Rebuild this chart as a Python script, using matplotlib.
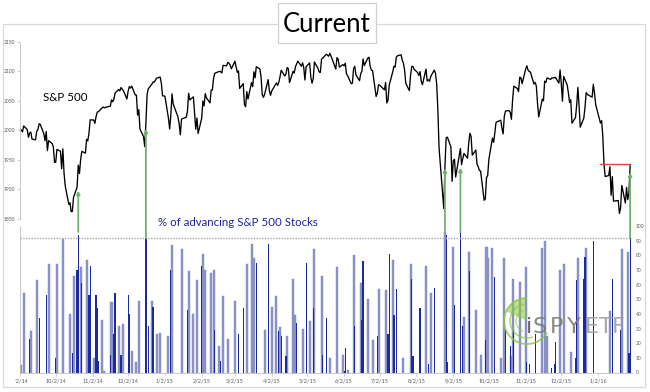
import matplotlib
matplotlib.use('Agg')
import matplotlib.pyplot as plt
import matplotlib.dates as mdates
from matplotlib.patches import Rectangle, Arc, Wedge, ConnectionPatch
from matplotlib.transforms import Bbox, TransformedBbox
from datetime import datetime

plt.rcParams['font.family'] = ['Lato', 'DejaVu Sans']

# ---------------- data ----------------
sp_months = ["2014-09", "2014-10", "2014-11", "2014-12", "2015-01", "2015-02", "2015-03",
             "2015-04", "2015-05", "2015-06", "2015-07", "2015-08", "2015-09", "2015-10",
             "2015-11", "2015-12", "2016-01"]
sp_days = [
    [2, 3, 4, 5, 8, 9, 10, 11, 12, 15, 16, 17, 18, 19, 22, 23, 24, 25, 26, 29, 30],
    [1, 2, 3, 6, 7, 8, 9, 10, 13, 14, 15, 16, 17, 20, 21, 22, 23, 24, 27, 28, 29, 30, 31],
    [3, 4, 5, 6, 7, 10, 11, 12, 13, 14, 17, 18, 19, 20, 21, 24, 25, 26, 28],
    [1, 2, 3, 4, 5, 8, 9, 10, 11, 12, 15, 16, 17, 18, 19, 22, 23, 24, 26, 29, 30, 31],
    [2, 5, 6, 7, 8, 9, 12, 13, 14, 15, 16, 20, 21, 22, 23, 26, 27, 28, 29, 30],
    [2, 3, 4, 5, 6, 9, 10, 11, 12, 13, 17, 18, 19, 20, 23, 24, 25, 26, 27],
    [2, 3, 4, 5, 6, 9, 10, 11, 12, 13, 16, 17, 18, 19, 20, 23, 24, 25, 26, 27, 30, 31],
    [1, 2, 6, 7, 8, 9, 10, 13, 14, 15, 16, 17, 20, 21, 22, 23, 24, 27, 28, 29, 30],
    [1, 4, 5, 6, 7, 8, 11, 12, 13, 14, 15, 18, 19, 20, 21, 22, 26, 27, 28, 29],
    [1, 2, 3, 4, 5, 8, 9, 10, 11, 12, 15, 16, 17, 18, 19, 22, 23, 24, 25, 26, 29, 30],
    [1, 2, 6, 7, 8, 9, 10, 13, 14, 15, 16, 17, 20, 21, 22, 23, 24, 27, 28, 29, 30, 31],
    [3, 4, 5, 6, 7, 10, 11, 12, 13, 14, 17, 18, 19, 20, 21, 24, 25, 26, 27, 28, 31],
    [1, 2, 3, 4, 8, 9, 10, 11, 14, 15, 16, 17, 18, 21, 22, 23, 24, 25, 28, 29, 30],
    [1, 2, 5, 6, 7, 8, 9, 12, 13, 14, 15, 16, 19, 20, 21, 22, 23, 26, 27, 28, 29, 30],
    [2, 3, 4, 5, 6, 9, 10, 11, 12, 13, 16, 17, 18, 19, 20, 23, 24, 25, 27, 30],
    [1, 2, 3, 4, 7, 8, 9, 10, 11, 14, 15, 16, 17, 18, 21, 22, 23, 24, 28, 29, 30, 31],
    [4, 5, 6, 7, 8, 11, 12, 13, 14, 15, 19, 20, 21, 22, 25, 26, 27, 28, 29],
]
sp_close = [
    [2002.28, 2000.72, 1997.65, 2007.71, 2001.54, 1988.44, 1995.69, 1997.45, 1985.54, 1984.13, 1998.98,
     2001.57, 2011.36, 2010.40, 1994.29, 1982.77, 1998.30, 1965.99, 1982.85, 1977.80, 1972.29],
    [1946.16, 1946.17, 1967.90, 1964.82, 1935.10, 1968.89, 1928.21, 1906.13, 1874.74, 1877.70, 1862.49,
     1862.76, 1886.76, 1904.01, 1941.28, 1927.11, 1950.82, 1964.58, 1961.63, 1985.05, 1982.30, 1994.65, 2018.05],
    [2017.81, 2012.10, 2023.57, 2031.21, 2031.92, 2038.26, 2039.68, 2038.25, 2039.33, 2039.82, 2041.32,
     2051.80, 2048.72, 2052.75, 2063.50, 2069.41, 2067.03, 2072.83, 2067.56],
    [2053.44, 2066.55, 2074.33, 2071.92, 2075.37, 2060.31, 2059.82, 2026.14, 2035.33, 2002.33, 1989.63,
     1972.74, 2012.89, 2061.23, 2070.65, 2078.54, 2082.17, 2081.88, 2088.77, 2090.57, 2080.35, 2058.90],
    [2058.20, 2020.58, 2002.61, 2025.90, 2062.14, 2044.81, 2028.26, 2023.03, 2011.27, 1992.67, 2019.42,
     2022.55, 2032.12, 2063.15, 2051.82, 2057.09, 2029.55, 2002.16, 2021.25, 1994.99],
    [2020.85, 2050.03, 2041.51, 2062.52, 2055.47, 2046.74, 2068.59, 2068.53, 2088.48, 2096.99, 2100.34,
     2099.68, 2097.45, 2110.30, 2109.66, 2115.48, 2113.86, 2110.74, 2104.50],
    [2117.39, 2107.78, 2098.53, 2101.04, 2071.26, 2079.43, 2044.16, 2040.24, 2065.95, 2053.40, 2081.19,
     2074.28, 2099.50, 2089.27, 2108.10, 2104.42, 2091.50, 2061.05, 2056.15, 2061.02, 2086.24, 2067.89],
    [2059.69, 2066.96, 2080.62, 2076.33, 2081.90, 2091.18, 2102.06, 2092.43, 2095.84, 2106.63, 2104.99,
     2081.18, 2100.40, 2097.29, 2107.96, 2112.93, 2117.69, 2108.92, 2114.76, 2106.85, 2085.51],
    [2108.29, 2114.49, 2089.46, 2080.15, 2088.00, 2116.10, 2105.33, 2099.12, 2098.48, 2121.10, 2122.73,
     2129.20, 2127.83, 2125.85, 2130.82, 2126.06, 2104.20, 2123.48, 2120.79, 2107.39],
    [2111.73, 2109.60, 2114.07, 2095.84, 2092.83, 2079.28, 2080.15, 2105.20, 2108.86, 2094.11, 2084.43,
     2096.29, 2100.44, 2121.24, 2109.99, 2122.85, 2124.20, 2108.58, 2102.31, 2101.49, 2057.64, 2063.11],
    [2077.42, 2076.78, 2068.76, 2081.34, 2046.68, 2051.31, 2076.62, 2099.60, 2108.95, 2107.40, 2124.29,
     2126.64, 2128.28, 2119.21, 2114.15, 2102.15, 2079.65, 2067.64, 2093.25, 2108.57, 2108.63, 2103.84],
    [2098.04, 2093.32, 2099.84, 2083.56, 2077.57, 2104.18, 2084.07, 2086.05, 2083.39, 2091.54, 2102.44,
     2096.92, 2079.61, 2035.73, 1970.89, 1893.21, 1867.61, 1940.51, 1987.66, 1988.87, 1972.18],
    [1913.85, 1948.86, 1951.13, 1921.22, 1969.41, 1942.04, 1952.29, 1961.05, 1953.03, 1978.09, 1995.31,
     1990.20, 1958.03, 1966.97, 1942.74, 1938.76, 1932.24, 1931.34, 1881.77, 1884.09, 1920.03],
    [1923.82, 1951.36, 1987.05, 1979.92, 1995.83, 2013.43, 2014.89, 2017.46, 2003.69, 1994.24, 2023.86,
     2033.11, 2033.66, 2030.77, 2018.94, 2052.51, 2075.15, 2071.18, 2065.89, 2090.35, 2089.41, 2079.36],
    [2104.05, 2109.79, 2102.31, 2099.93, 2099.20, 2078.58, 2081.72, 2075.00, 2045.97, 2023.04, 2053.19,
     2050.44, 2083.58, 2081.24, 2089.17, 2086.59, 2089.14, 2088.87, 2090.11, 2080.41],
    [2102.63, 2079.51, 2049.62, 2091.69, 2077.07, 2063.59, 2047.62, 2052.23, 2012.37, 2021.94, 2043.41,
     2073.07, 2041.89, 2005.55, 2021.15, 2038.97, 2064.29, 2060.99, 2056.50, 2078.36, 2063.36, 2043.94],
    [2012.66, 2016.71, 1990.26, 1943.09, 1922.03, 1923.67, 1938.68, 1890.28, 1921.84, 1880.33, 1881.33,
     1859.33, 1868.99, 1906.90, 1877.08, 1903.63, 1882.95, 1893.36, 1940.24],
]

# % of advancing S&P 500 stocks (bars, two rendering shades)
light_dates = ["2014-09-03", "2014-09-05", "2014-09-11", "2014-09-16", "2014-09-26", "2014-10-03",
               "2014-10-08", "2014-10-14", "2014-10-17", "2014-10-23", "2014-10-28", "2014-11-03",
               "2014-11-10", "2014-11-12", "2014-11-18", "2014-11-24", "2014-11-28", "2014-12-05",
               "2014-12-09", "2014-12-11", "2014-12-22", "2014-12-26", "2014-12-29", "2015-01-05",
               "2015-01-08", "2015-01-16", "2015-01-22", "2015-01-26", "2015-01-29", "2015-02-03",
               "2015-02-05", "2015-02-10", "2015-02-12", "2015-02-17", "2015-02-20", "2015-02-24",
               "2015-03-02", "2015-03-12", "2015-03-16", "2015-03-18", "2015-03-27", "2015-04-02",
               "2015-04-06", "2015-04-09", "2015-04-15", "2015-04-20", "2015-04-22", "2015-04-28",
               "2015-05-04", "2015-05-08", "2015-05-14", "2015-05-21", "2015-05-27", "2015-06-01",
               "2015-06-05", "2015-06-10", "2015-06-16", "2015-06-22", "2015-06-26", "2015-07-01",
               "2015-07-07", "2015-07-13", "2015-07-22", "2015-07-28", "2015-08-10", "2015-08-14",
               "2015-08-26", "2015-09-02", "2015-09-11", "2015-09-15", "2015-09-21", "2015-09-25",
               "2015-09-30", "2015-10-01", "2015-10-05", "2015-10-12", "2015-10-15", "2015-10-21",
               "2015-10-22", "2015-10-28", "2015-11-02", "2015-11-16", "2015-11-18", "2015-11-19",
               "2015-11-20", "2015-12-01", "2015-12-04", "2015-12-10", "2015-12-16", "2015-12-23",
               "2016-01-12", "2016-01-22", "2016-01-27"]
light_vals = [5, 54, 28, 63, 74, 74,
              91, 40, 66, 72, 77, 10,
              36, 1, 48, 32, 33, 15,
              7, 49, 49, 26, 27, 25,
              87, 84, 69, 40, 63, 81,
              70, 68, 70, 18, 52, 23,
              49, 74, 88, 78, 29, 45,
              52, 31, 25, 64, 39, 30,
              35, 84, 66, 10, 72, 12,
              2, 80, 61, 50, 22, 57,
              56, 77, 10, 74, 73, 54,
              96, 86, 38, 82, 43, 12,
              86, 78, 85, 10, 78, 11,
              64, 62, 72, 85, 90, 3,
              25, 70, 74, 14, 78, 85,
              42, 84, 82]
dark_dates = ["2014-09-10", "2014-09-18", "2014-09-24", "2014-10-02", "2014-10-16", "2014-10-20",
              "2014-10-21", "2014-10-24", "2014-10-30", "2014-10-31", "2014-11-05", "2014-11-06",
              "2014-11-07", "2014-11-17", "2014-11-20", "2014-11-21", "2014-11-26", "2014-12-02",
              "2014-12-03", "2014-12-17", "2014-12-19", "2014-12-23", "2015-01-07", "2015-01-21",
              "2015-02-02", "2015-02-13", "2015-02-18", "2015-03-05", "2015-03-09", "2015-03-20",
              "2015-03-30", "2015-04-08", "2015-04-10", "2015-04-14", "2015-04-23", "2015-05-01",
              "2015-05-07", "2015-05-15", "2015-05-18", "2015-06-02", "2015-06-03", "2015-06-11",
              "2015-06-17", "2015-06-18", "2015-06-30", "2015-07-09", "2015-07-10", "2015-07-14",
              "2015-07-16", "2015-07-29", "2015-07-30", "2015-08-05", "2015-08-12", "2015-08-17",
              "2015-08-27", "2015-08-28", "2015-09-03", "2015-09-08", "2015-09-10", "2015-09-16",
              "2015-09-29", "2015-10-07", "2015-10-16", "2015-10-20", "2015-10-23", "2015-11-03",
              "2015-11-05", "2015-11-10", "2015-11-24", "2015-11-26", "2015-11-27", "2015-12-14",
              "2015-12-15", "2015-12-21", "2015-12-22", "2015-12-29", "2016-01-14", "2016-01-21",
              "2016-01-28", "2016-01-29"]
dark_vals = [23, 37, 53, 10, 13, 70,
             94, 61, 53, 73, 53, 44,
             8, 12, 26, 54, 12, 53,
             40, 92, 32, 45, 70, 43,
             73, 29, 8, 26, 44, 75,
             88, 28, 25, 11, 34, 75,
             44, 12, 37, 1, 17, 32,
             36, 76, 25, 26, 81, 39,
             57, 64, 11, 44, 6, 58,
             94, 7, 46, 96, 32, 69,
             22, 65, 29, 18, 29, 7,
             6, 26, 3, 6, 21, 10,
             63, 64, 79, 90, 64, 29,
             13, 93]

x_tick_dates = ["2014-09-02", "2014-10-02", "2014-11-02", "2014-12-02", "2015-01-02", "2015-02-02",
                "2015-03-02", "2015-04-02", "2015-05-02", "2015-06-02", "2015-07-02", "2015-08-02",
                "2015-09-02", "2015-10-02", "2015-11-02", "2015-12-02", "2016-01-02"]
x_tick_labels = ["9/2/14", "10/2/14", "11/2/14", "12/2/14", "1/2/15", "2/2/15", "3/2/15", "4/2/15",
                 "5/2/15", "6/2/15", "7/2/15", "8/2/15", "9/2/15", "10/2/15", "11/2/15", "12/2/15",
                 "1/2/16"]
sp_ticks = [1850, 1900, 1950, 2000, 2050, 2100, 2150]
pct_ticks = [0, 10, 20, 30, 40, 50, 60, 70, 80, 90, 100]

arrow_dates = ["2014-10-21", "2014-12-17", "2015-08-26", "2015-09-08", "2016-01-29"]
arrow_start = [96, 92, 96, 96, 92]
arrow_tip = [1898, 2003, 1936, 1937, 1929]

red_level = 1943.09
red_span = ["2016-01-04", "2016-01-29"]
threshold = 92


def d(s):
    return mdates.date2num(datetime.strptime(s, "%Y-%m-%d"))


sp_x, sp_y = [], []
for m, days, closes in zip(sp_months, sp_days, sp_close):
    for dd, c in zip(days, closes):
        sp_x.append(d(f"{m}-{dd:02d}"))
        sp_y.append(c)

# ---------------- figure ----------------
W, H = 650, 392
fig = plt.figure(figsize=(W / 100, H / 100), dpi=100)


def fx(px):
    return px / W


def fy(py):
    return 1 - py / H


x0 = d("2014-09-02") - 0.1
x1 = d("2014-09-02") + 515.6
L, R = 20, 632
ax_top = fig.add_axes([fx(L), fy(219), fx(R - L), fy(42) - fy(219)])
ax_bar = fig.add_axes([fx(L), fy(372.5), fx(R - L), fy(226) - fy(372.5)])
for a in (ax_top, ax_bar):
    a.set_xlim(x0, x1)
    a.patch.set_alpha(0)

gray_axis = '#bfbfbf'
tick_col = '#595959'

# top: S&P line
ax_top.plot(sp_x, sp_y, color='black', lw=0.95)
ax_top.plot([d(red_span[0]), d(red_span[1])], [red_level, red_level], color='#e8403a', lw=1.0)
ax_top.set_ylim(1850, 2150)
ax_top.set_yticks(sp_ticks)
ax_top.tick_params(axis='y', labelsize=3.6, labelcolor=tick_col, color=gray_axis, length=2,
                   width=0.5, pad=1.5, direction='out')
ax_top.set_xticks([])
for s in ['top', 'right', 'bottom']:
    ax_top.spines[s].set_visible(False)
ax_top.spines['left'].set_color(gray_axis)
ax_top.spines['left'].set_linewidth(0.6)
ax_top.text(0.038, 0.668, "S&P 500", transform=ax_top.transAxes, fontsize=8.3,
            color='black', va='baseline', ha='left')

# bottom: bars
lx = [d(s) for s in light_dates]
dx = [d(s) for s in dark_dates]
ax_bar.bar(lx, light_vals, width=1.7, color='#8d94c9', edgecolor='#7d86c2', linewidth=0.3, zorder=2)
ax_bar.bar(dx, dark_vals, width=1.0, color='#1b2a9e', linewidth=0, zorder=3)
ax_bar.axhline(threshold, color='#a6a6a6', lw=1.0, ls=(0, (1, 1)), zorder=4)
ax_bar.set_ylim(0, 100)
ax_bar.yaxis.tick_right()
ax_bar.set_yticks(pct_ticks)
ax_bar.tick_params(axis='y', labelsize=3.6, labelcolor=tick_col, length=0, pad=2.5)
ax_bar.set_xticks([d(s) for s in x_tick_dates])
ax_bar.set_xticklabels(x_tick_labels)
ax_bar.tick_params(axis='x', labelsize=4.0, labelcolor=tick_col, color=gray_axis, length=2,
                   width=0.5, pad=2.5, direction='out')
for s in ['top', 'right']:
    ax_bar.spines[s].set_visible(False)
for s in ['left', 'bottom']:
    ax_bar.spines[s].set_color(gray_axis)
    ax_bar.spines[s].set_linewidth(0.6)

fig.text(fx(158), fy(225.5), "% of advancing S&P 500 Stocks", fontsize=8.3, color='#23239a',
         ha='left', va='baseline')

# arrows from breadth bars up to the index
for ds, s0, tip in zip(arrow_dates, arrow_start, arrow_tip):
    xv = d(ds)
    con = ConnectionPatch(xyA=(xv, s0), coordsA=ax_bar.transData,
                          xyB=(xv, tip), coordsB=ax_top.transData,
                          arrowstyle='-|>', mutation_scale=5, color='#6db56d', lw=1.3,
                          shrinkA=0, shrinkB=0, zorder=6)
    fig.add_artist(con)

# ---------------- decorations (frame, title, watermark) ----------------
ov = fig.add_axes([0, 0, 1, 1], zorder=10)
ov.set_xlim(0, W)
ov.set_ylim(H, 0)
ov.axis('off')
ov.patch.set_alpha(0)
ov.add_patch(Rectangle((3, 23.5), 642, 363.5, fill=False, edgecolor='#d9d9d9', lw=0.9))
ov.add_patch(Rectangle((278, 3), 98, 40, facecolor='white', edgecolor='#d0d0d0', lw=0.9))
ov.text(327, 24, "Current", fontsize=18.5, ha='center', va='center', color='black')

g = '#8cc63f'
cx, cy = 527, 321
ov.add_patch(Wedge((cx, cy), 23, 205, 265, facecolor=g, edgecolor='none', alpha=0.55))
ov.add_patch(Arc((cx, cy), 46, 46, theta1=30, theta2=270, color=g, lw=1.3, alpha=0.8))
ov.add_patch(Arc((cx, cy), 34, 34, theta1=70, theta2=260, color=g, lw=1.1, alpha=0.7))
ov.add_patch(Arc((cx, cy), 22, 22, theta1=110, theta2=250, color=g, lw=1.0, alpha=0.6))
logo_letters = [("i", 526, '#4d4d4d'), ("S", 533, '#7a7a7a'), ("P", 550, '#7a7a7a'),
                ("Y", 567, '#7a7a7a'), ("E", 585, '#a0a0a0'), ("T", 599, '#a0a0a0'),
                ("F", 612, '#a0a0a0')]
for ch, xpos, col in logo_letters:
    ov.text(xpos, 333, ch, fontsize=16, color=col, ha='left', va='baseline',
            family='DejaVu Sans', alpha=0.88)

# clip first x tick label like the original (left part hidden)
fig.canvas.draw()
lbl = ax_bar.xaxis.get_major_ticks()[0].label1
lbl.set_clip_box(TransformedBbox(Bbox([[fx(15), 0], [1, 1]]), fig.transFigure))
lbl.set_clip_on(True)

fig.savefig("out.png", dpi=100)
